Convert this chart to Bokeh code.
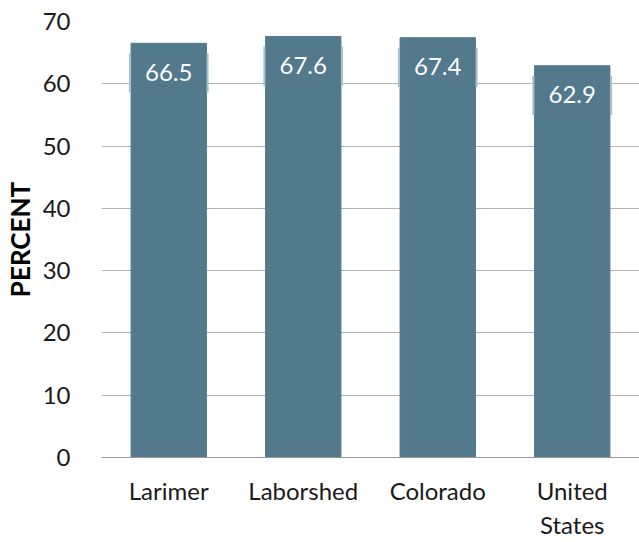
from bokeh.plotting import figure
from bokeh.models import ColumnDataSource, LabelSet, Range1d, FixedTicker
from bokeh.core.properties import value
from bokeh.transform import dodge
from bokeh.embed import file_html
from bokeh.resources import INLINE

categories = ["Larimer", "Laborshed", "Colorado", "United\nStates"]
values = [66.5, 67.6, 67.4, 62.9]
labels = ["66.5", "67.6", "67.4", "62.9"]
y_ticks = [0, 10, 20, 30, 40, 50, 60, 70]

FONT = "Lato"
BAR = "#52798c"

src = ColumnDataSource(dict(
    cat=categories,
    val=values,
    lab=labels,
    y0=[v - 1.6 for v in values],
    y1=[v - 7.9 for v in values],
))

p = figure(x_range=categories, y_range=Range1d(0, 70), width=639, height=542,
           output_backend="svg", toolbar_location=None,
           min_border_left=100, min_border_right=0, min_border_top=21, min_border_bottom=85)
p.outline_line_color = None

p.vbar(x="cat", top="val", width=0.56, source=src, color=BAR)

for off in (-0.289, 0.289):
    p.segment(x0=dodge("cat", off, range=p.x_range), x1=dodge("cat", off, range=p.x_range),
              y0="y0", y1="y1", source=src, line_color="#a9c0cb", line_width=2)

lbl = LabelSet(x="cat", y="val", text="lab", source=src, text_color="white",
               text_font=value(FONT), text_font_size="24px", text_align="center",
               text_baseline="middle", y_offset=-29)
p.add_layout(lbl)

p.xgrid.grid_line_color = None
p.ygrid.grid_line_color = "#b3b3b3"
p.ygrid.grid_line_width = 1
p.yaxis.ticker = FixedTicker(ticks=y_ticks)
p.yaxis.axis_line_color = None
p.yaxis.major_tick_line_color = None
p.yaxis.minor_tick_line_color = None
p.yaxis.major_label_text_font = FONT
p.yaxis.major_label_text_font_size = "24px"
p.yaxis.major_label_text_color = "#1a1a1a"
p.yaxis.major_label_standoff = 25
p.yaxis.axis_label = "PERCENT"
p.yaxis.axis_label_text_font = FONT
p.yaxis.axis_label_text_font_style = "bold"
p.yaxis.axis_label_text_font_size = "26px"
p.yaxis.axis_label_text_color = "#000000"
p.yaxis.axis_label_standoff = 4

p.xaxis.axis_line_color = "#999999"
p.xaxis.major_tick_line_color = None
p.xaxis.minor_tick_line_color = None
p.xaxis.major_label_text_font = FONT
p.xaxis.major_label_text_font_size = "24px"
p.xaxis.major_label_text_color = "#1a1a1a"
p.xaxis.major_label_standoff = 12

open("out.html", "w").write(file_html(p, INLINE))
